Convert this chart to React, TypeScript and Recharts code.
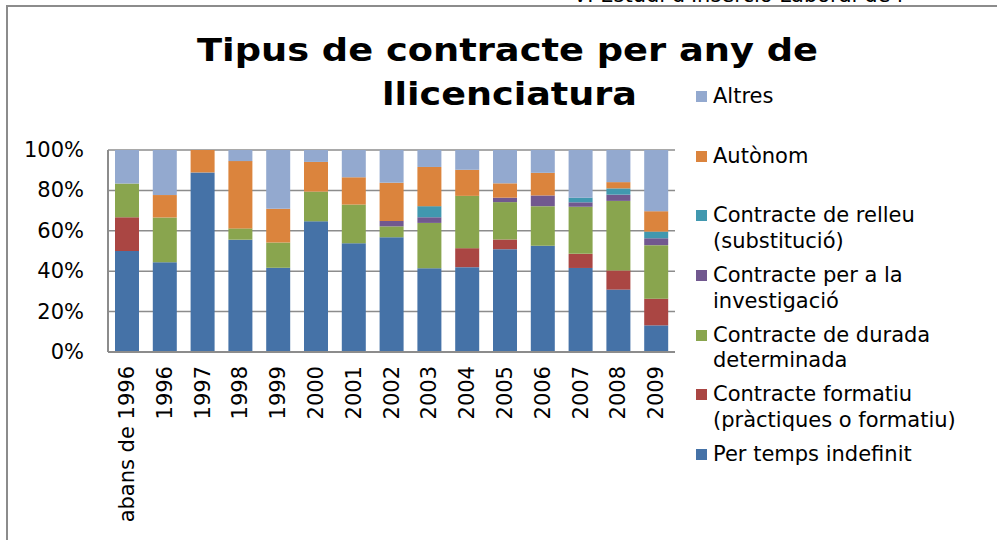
import { BarChart, Bar, XAxis, YAxis, CartesianGrid } from "recharts"

const years = [
  "abans de 1996", "1996", "1997", "1998", "1999", "2000", "2001", "2002",
  "2003", "2004", "2005", "2006", "2007", "2008", "2009",
]
const indefinit = [50, 44.4, 88.9, 55.6, 41.7, 64.7, 53.8, 56.8, 41.5, 42.0, 50.9, 52.6, 41.6, 30.9, 13.2]
const formatiu = [16.7, 0, 0, 0, 0, 0, 0, 0, 0, 9.4, 4.8, 0, 7.0, 9.5, 13.2]
const durada = [16.7, 22.2, 0, 5.6, 12.5, 14.7, 19.2, 5.4, 22.4, 25.9, 18.5, 19.6, 23.3, 34.4, 26.5]
const investigacio = [0, 0, 0, 0, 0, 0, 0, 2.7, 2.8, 0, 2.2, 5.3, 2.2, 3.1, 3.4]
const relleu = [0, 0, 0, 0, 0, 0, 0, 0, 5.5, 0, 0, 0, 2.3, 3.1, 3.3]
const autonom = [0, 11.1, 11.1, 33.3, 16.7, 14.7, 13.5, 18.9, 19.4, 12.9, 7.1, 11.2, 0, 3.1, 10.1]
const altres = [16.6, 22.3, 0, 5.5, 29.1, 5.9, 13.5, 16.2, 8.4, 9.8, 16.5, 11.3, 23.6, 15.9, 30.3]
const yTicks = [0, 20, 40, 60, 80, 100]

// stack order, bottom to top
const series = [
  { key: "indefinit", name: ["Per temps indefinit"], color: "#4572a7", values: indefinit },
  { key: "formatiu", name: ["Contracte formatiu", "(pràctiques o formatiu)"], color: "#aa4643", values: formatiu },
  { key: "durada", name: ["Contracte de durada", "determinada"], color: "#89a54e", values: durada },
  { key: "investigacio", name: ["Contracte per a la", "investigació"], color: "#71588f", values: investigacio },
  { key: "relleu", name: ["Contracte de relleu", "(substitució)"], color: "#4198af", values: relleu },
  { key: "autonom", name: ["Autònom"], color: "#db843d", values: autonom },
  { key: "altres", name: ["Altres"], color: "#93a9cf", values: altres },
]

const data = years.map((year, i) => {
  const row: Record<string, string | number> = { year }
  series.forEach((s) => {
    row[s.key] = s.values[i]
  })
  return row
})

const font = "'DejaVu Sans', Verdana, sans-serif"
const grey = "#8c8c8c"

function XTick({ x, y, payload }: any) {
  const ty = y + 6
  return (
    <text
      x={x}
      y={ty}
      transform={`rotate(-90, ${x}, ${ty})`}
      textAnchor="end"
      dominantBaseline="central"
      fontSize={21}
      fontFamily={font}
      fill="#000"
    >
      {payload.value}
    </text>
  )
}

function YTick({ y, payload }: any) {
  return (
    <text x={84} y={y} textAnchor="end" dominantBaseline="central" fontSize={21} fontFamily={font} fill="#000">
      {payload.value}%
    </text>
  )
}

export default function App() {
  return (
    <div
      style={{
        position: "absolute",
        left: 0,
        top: 0,
        width: 997,
        height: 540,
        overflow: "hidden",
        background: "#fff",
        fontFamily: font,
      }}
    >
      <div
        style={{
          position: "absolute",
          left: 6,
          top: 5,
          width: 1100,
          height: 600,
          border: `2px solid ${grey}`,
        }}
      />
      <svg width={997} height={130} style={{ position: "absolute", left: 0, top: 0 }}>
        <text x={573} y={2} fontSize={21} fontFamily={font} fill="#000">
          VI Estudi d'Inserció Laboral de l
        </text>
        <text
          x={197}
          y={61}
          fontSize={32}
          fontWeight="bold"
          fontFamily={font}
          textLength={621}
          lengthAdjust="spacingAndGlyphs"
        >
          Tipus de contracte per any de
        </text>
        <text
          x={382}
          y={105}
          fontSize={32}
          fontWeight="bold"
          fontFamily={font}
          textLength={255}
          lengthAdjust="spacingAndGlyphs"
        >
          llicenciatura
        </text>
      </svg>
      <div style={{ position: "absolute", left: 0, top: 0 }}>
        <BarChart
          width={997}
          height={540}
          data={data}
          margin={{ top: 150, right: 322, left: 8, bottom: 8 }}
        >
          <CartesianGrid vertical={false} stroke={grey} strokeWidth={1.5} />
          <XAxis
            dataKey="year"
            interval={0}
            height={180}
            tick={<XTick />}
            tickLine={false}
            axisLine={{ stroke: grey, strokeWidth: 2 }}
          />
          <YAxis
            domain={[0, 100]}
            ticks={yTicks}
            width={100}
            tick={<YTick />}
            tickLine={false}
            axisLine={{ stroke: grey, strokeWidth: 2 }}
          />
          {series.map((s) => (
            <Bar
              key={s.key}
              dataKey={s.key}
              stackId="a"
              fill={s.color}
              barSize={24}
              isAnimationActive={false}
            />
          ))}
        </BarChart>
      </div>
      <div style={{ position: "absolute", left: 696, top: 84, width: 300 }}>
        {[...series].reverse().map((s) => (
          <div key={s.key} style={{ position: "relative", height: 59.7, fontSize: 21, lineHeight: "25.5px" }}>
            <span
              style={{
                position: "absolute",
                left: 0,
                top: 7,
                width: 11,
                height: 11,
                background: s.color,
              }}
            />
            <div style={{ marginLeft: 17, whiteSpace: "nowrap" }}>
              {s.name.map((line, j) => (
                <div key={j}>{line}</div>
              ))}
            </div>
          </div>
        ))}
      </div>
    </div>
  )
}
